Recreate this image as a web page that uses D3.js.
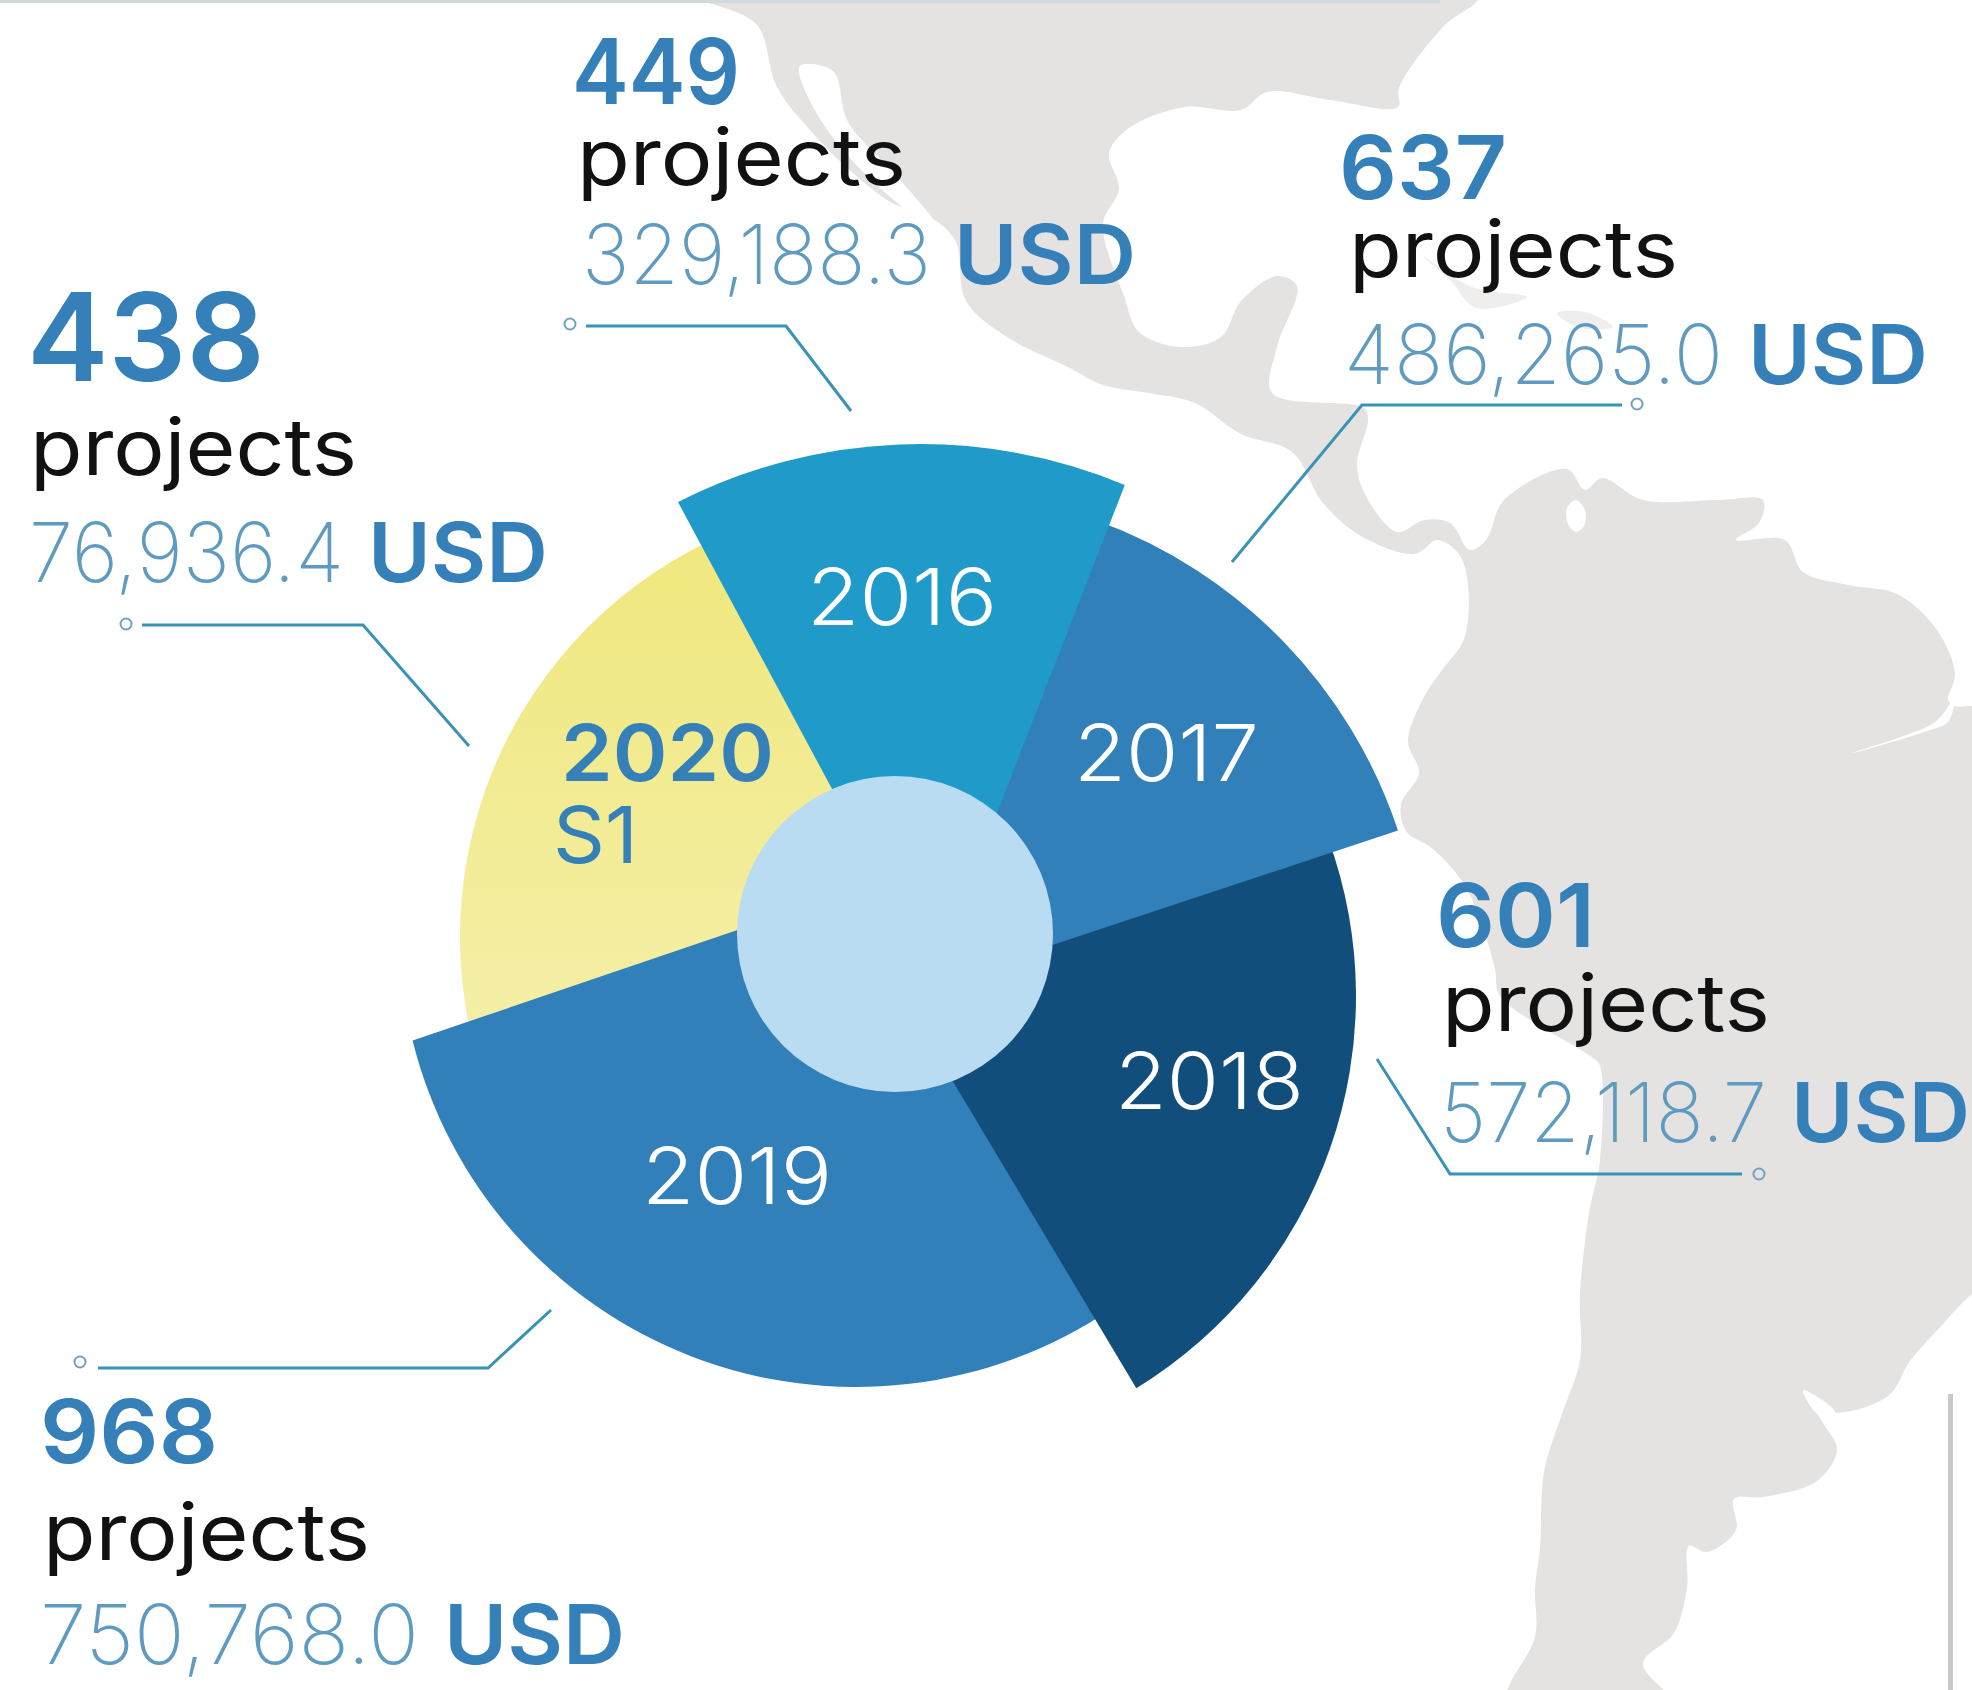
<!DOCTYPE html>
<html>
<head>
<meta charset="utf-8">
<script src="https://cdn.jsdelivr.net/npm/d3@7"></script>
<style>
  html, body { margin: 0; padding: 0; background: #fff; }
  svg { display: block; }
  text { font-family: Inter, "Noto Sans", sans-serif; }
</style>
</head>
<body>
<svg></svg>
<script>
// data
const years = ["2016", "2017", "2018", "2019", "2020"];
const projectCounts = [449, 637, 601, 968, 438];
const usdAmounts = [329188.3, 486265.0, 572118.7, 750768.0, 76936.4];

const width = 1972, height = 1690;
const svg = d3.select("svg").attr("width", width).attr("height", height);

// wedges are not concentric in the original, each one has its own apex and arc
const wedges = {
    "2016": { apex: [933, 977], c: [920, 977], r: 533, a: [-27, 22.6], fill: "#1f9ac9" },
    "2017": { apex: [928, 986], c: [928, 986], r: 495, a: [20, 71.7], fill: "#3280ba" },
    "2018": { apex: [900, 993], c: [896, 996], r: 460, a: [70, 148.5], fill: "#114e7c" },
    "2019": { apex: [843, 894], c: [856, 930], r: 457, a: [146, 256], fill: "#3280ba" },
    "2020": { apex: [899, 937], c: [899, 937], r: 439, a: [250, 340], fill: "url(#yellowFade)" }
};

// label block per year: x / baseline of each line and widths
const labelPos = {
    "2016": { n: [576, 104, 160, 91], p: [581, 185, 321], v: [586, 284, 341], u: [958, 174], year: [811, 625, 182] },
    "2017": { n: [1343, 199, 160, 88], p: [1353, 277, 321], v: [1348, 384, 371], u: [1752, 172], year: [1078, 781, 177] },
    "2018": { n: [1440, 947, 151, 88], p: [1446, 1031, 320], v: [1444, 1142, 319], u: [1795, 171], year: [1119, 1109, 181] },
    "2019": { n: [44, 1463, 170, 88], p: [47, 1560, 319], v: [44, 1664, 371], u: [448, 173], year: [646, 1204, 182] },
    "2020": { n: [31, 381, 230, 122], p: [34, 475, 319], v: [33, 582, 307], u: [372, 172], year: [565, 781, 205] }
};

// leader lines, last point is where the small ring sits
const leaders = {
    "2016": { line: [[586, 326], [786, 326], [851, 411]], ring: [570, 324] },
    "2017": { line: [[1622, 405], [1362, 405], [1232, 562]], ring: [1637, 404] },
    "2018": { line: [[1742, 1174], [1450, 1174], [1377, 1059]], ring: [1759, 1174] },
    "2019": { line: [[98, 1368], [488, 1368], [551, 1310]], ring: [80, 1362] },
    "2020": { line: [[142, 625], [363, 625], [469, 746]], ring: [126, 624] }
};

// background map
const landOutline = [
    [690, -30], [700, 0], [716, 5], [757, 25], [777, 87], [810, 130], [853, 173], [894, 204], [925, 214], [955, 240],
    [966, 301], [1007, 337], [1068, 367], [1103, 385], [1149, 393], [1195, 403], [1241, 434], [1292, 452],
    [1323, 503], [1361, 536], [1415, 554], [1437, 540], [1459, 554], [1468, 585], [1464, 639], [1442, 670],
    [1424, 697], [1408, 741], [1419, 773], [1401, 804], [1406, 831], [1433, 849], [1464, 884], [1482, 925],
    [1495, 969], [1500, 996], [1593, 1058], [1600, 1066], [1600, 1160], [1589, 1213], [1580, 1294],
    [1580, 1360], [1562, 1414], [1544, 1472], [1540, 1548], [1535, 1588], [1535, 1637], [1509, 1686], [1500, 1720],
    [1690, 1720], [1643, 1664], [1674, 1633], [1687, 1588], [1689, 1546], [1707, 1552], [1736, 1530],
    [1734, 1499], [1763, 1497], [1817, 1481], [1837, 1450], [1823, 1423], [1803, 1390], [1830, 1412],
    [1888, 1396], [1910, 1361], [1942, 1325], [1972, 1294], [2010, 1270],
    [2010, 706], [1972, 706], [1955, 706], [1948, 700], [1955, 674], [1937, 630], [1897, 594], [1848, 585], [1803, 572], [1785, 540],
    [1736, 540], [1759, 523], [1763, 500], [1718, 500], [1643, 500], [1602, 478], [1585, 490], [1567, 469],
    [1504, 500], [1486, 540], [1470, 550], [1450, 523], [1424, 520], [1397, 532], [1366, 496], [1357, 465],
    [1368, 420], [1364, 408], [1272, 393], [1277, 347], [1297, 286], [1277, 276], [1241, 301], [1221, 337],
    [1180, 347], [1139, 332], [1124, 296], [1103, 224], [1119, 189], [1109, 153], [1129, 128], [1185, 107],
    [1241, 110], [1267, 92], [1330, 100], [1398, 107], [1399, 88], [1445, 25], [1478, 0], [1490, -30]
];
const landCuts = [
    [[800, 66], [833, 71], [848, 122], [894, 173], [935, 224], [920, 219], [859, 168], [813, 107]],
    [[1576, 500], [1585, 510], [1584, 526], [1576, 532], [1568, 524], [1567, 508]],
    [[1955, 697], [1935, 722], [1852, 753], [1930, 730], [1948, 722]],
    [[1803, 1390], [1815, 1412], [1830, 1420], [1835, 1412]]
];
// islands fading behind the 637 label
const faintIslands = [
    [[1424, 257], [1472, 287], [1527, 297], [1476, 308], [1450, 280]],
    [[1557, 313], [1585, 312], [1613, 327], [1580, 328]]
];

const defs = svg.append("defs");
const fade = defs.append("linearGradient").attr("id", "yellowFade")
    .attr("x1", 0).attr("x2", 0).attr("y1", 0).attr("y2", 1);
fade.append("stop").attr("offset", "0%").attr("stop-color", "#efe77c");
fade.append("stop").attr("offset", "100%").attr("stop-color", "#f5f0ac");

// Map
const outline = d3.line().curve(d3.curveCatmullRomClosed.alpha(0.5));
svg.append("path").attr("d", outline(landOutline)).attr("fill", "#e4e3e2");
svg.selectAll(".cut").data(landCuts).enter().append("path")
    .attr("class", "cut")
    .attr("d", outline)
    .attr("fill", "#fff");
svg.selectAll(".island").data(faintIslands).enter().append("path")
    .attr("class", "island")
    .attr("d", outline)
    .attr("fill", "#efeeed");

// Rules at the page edges
svg.append("rect").attr("x", 0).attr("y", 0).attr("width", 1440).attr("height", 3).attr("fill", "#d3dade");
svg.append("rect").attr("x", 1948).attr("y", 1394).attr("width", 5).attr("height", 296).attr("fill", "#c9c9c9");

// Wedges, each one lies over the next one clockwise
const toRad = d3.scaleLinear().domain([0, 360]).range([-Math.PI / 2, Math.PI * 1.5]);
svg.selectAll(".wedge")
    .data(years.slice().reverse())
    .enter().append("path")
    .attr("class", "wedge")
    .attr("fill", d => wedges[d].fill)
    .attr("d", d => {
        const w = wedges[d];
        const p = d3.path();
        p.moveTo(w.apex[0], w.apex[1]);
        p.arc(w.c[0], w.c[1], w.r, toRad(w.a[0]), toRad(w.a[1]));
        p.closePath();
        return p.toString();
    });

svg.append("circle").attr("cx", 895).attr("cy", 934).attr("r", 158).attr("fill", "#b9dcf3");

// Leaders
const leaderLine = d3.line();
svg.selectAll(".leader").data(years).enter().append("path")
    .attr("class", "leader")
    .attr("d", d => leaderLine(leaders[d].line))
    .attr("fill", "none")
    .attr("stroke", "#3a93b5")
    .attr("stroke-width", 3);
svg.selectAll(".ring").data(years).enter().append("circle")
    .attr("class", "ring")
    .attr("cx", d => leaders[d].ring[0])
    .attr("cy", d => leaders[d].ring[1])
    .attr("r", 5.5)
    .attr("fill", "none")
    .attr("stroke", "#6fa3bd")
    .attr("stroke-width", 2);

// Text blocks, widths are stretched a little to cover the side bearings
function fitText(x, y, w, size, weight, fill, str) {
    svg.append("text")
        .attr("x", x - 4).attr("y", y)
        .attr("textLength", w + 8).attr("lengthAdjust", "spacingAndGlyphs")
        .style("font-size", size + "px")
        .style("font-weight", weight)
        .attr("fill", fill)
        .text(str);
}
const fmtUsd = d3.format(",.1f");
years.forEach((y, i) => {
    const pos = labelPos[y];
    fitText(pos.n[0], pos.n[1], pos.n[2], pos.n[3], 600, "#3680b9", projectCounts[i]);
    fitText(pos.p[0], pos.p[1], pos.p[2], 78, 400, "#111", "projects");
    fitText(pos.v[0], pos.v[1], pos.v[2], 83, 200, "#5f9ac0", fmtUsd(usdAmounts[i]));
    fitText(pos.u[0], pos.v[1], pos.u[1], 83, 600, "#3680b9", "USD");
    if (y !== "2020") {
        fitText(pos.year[0], pos.year[1], pos.year[2], 78, 300, "#fff", y);
    }
});
fitText(labelPos["2020"].year[0], labelPos["2020"].year[1], labelPos["2020"].year[2], 78, 600, "#3680b9", "2020");
fitText(557, 863, 77, 78, 400, "#3680b9", "S1");
</script>
</body>
</html>
